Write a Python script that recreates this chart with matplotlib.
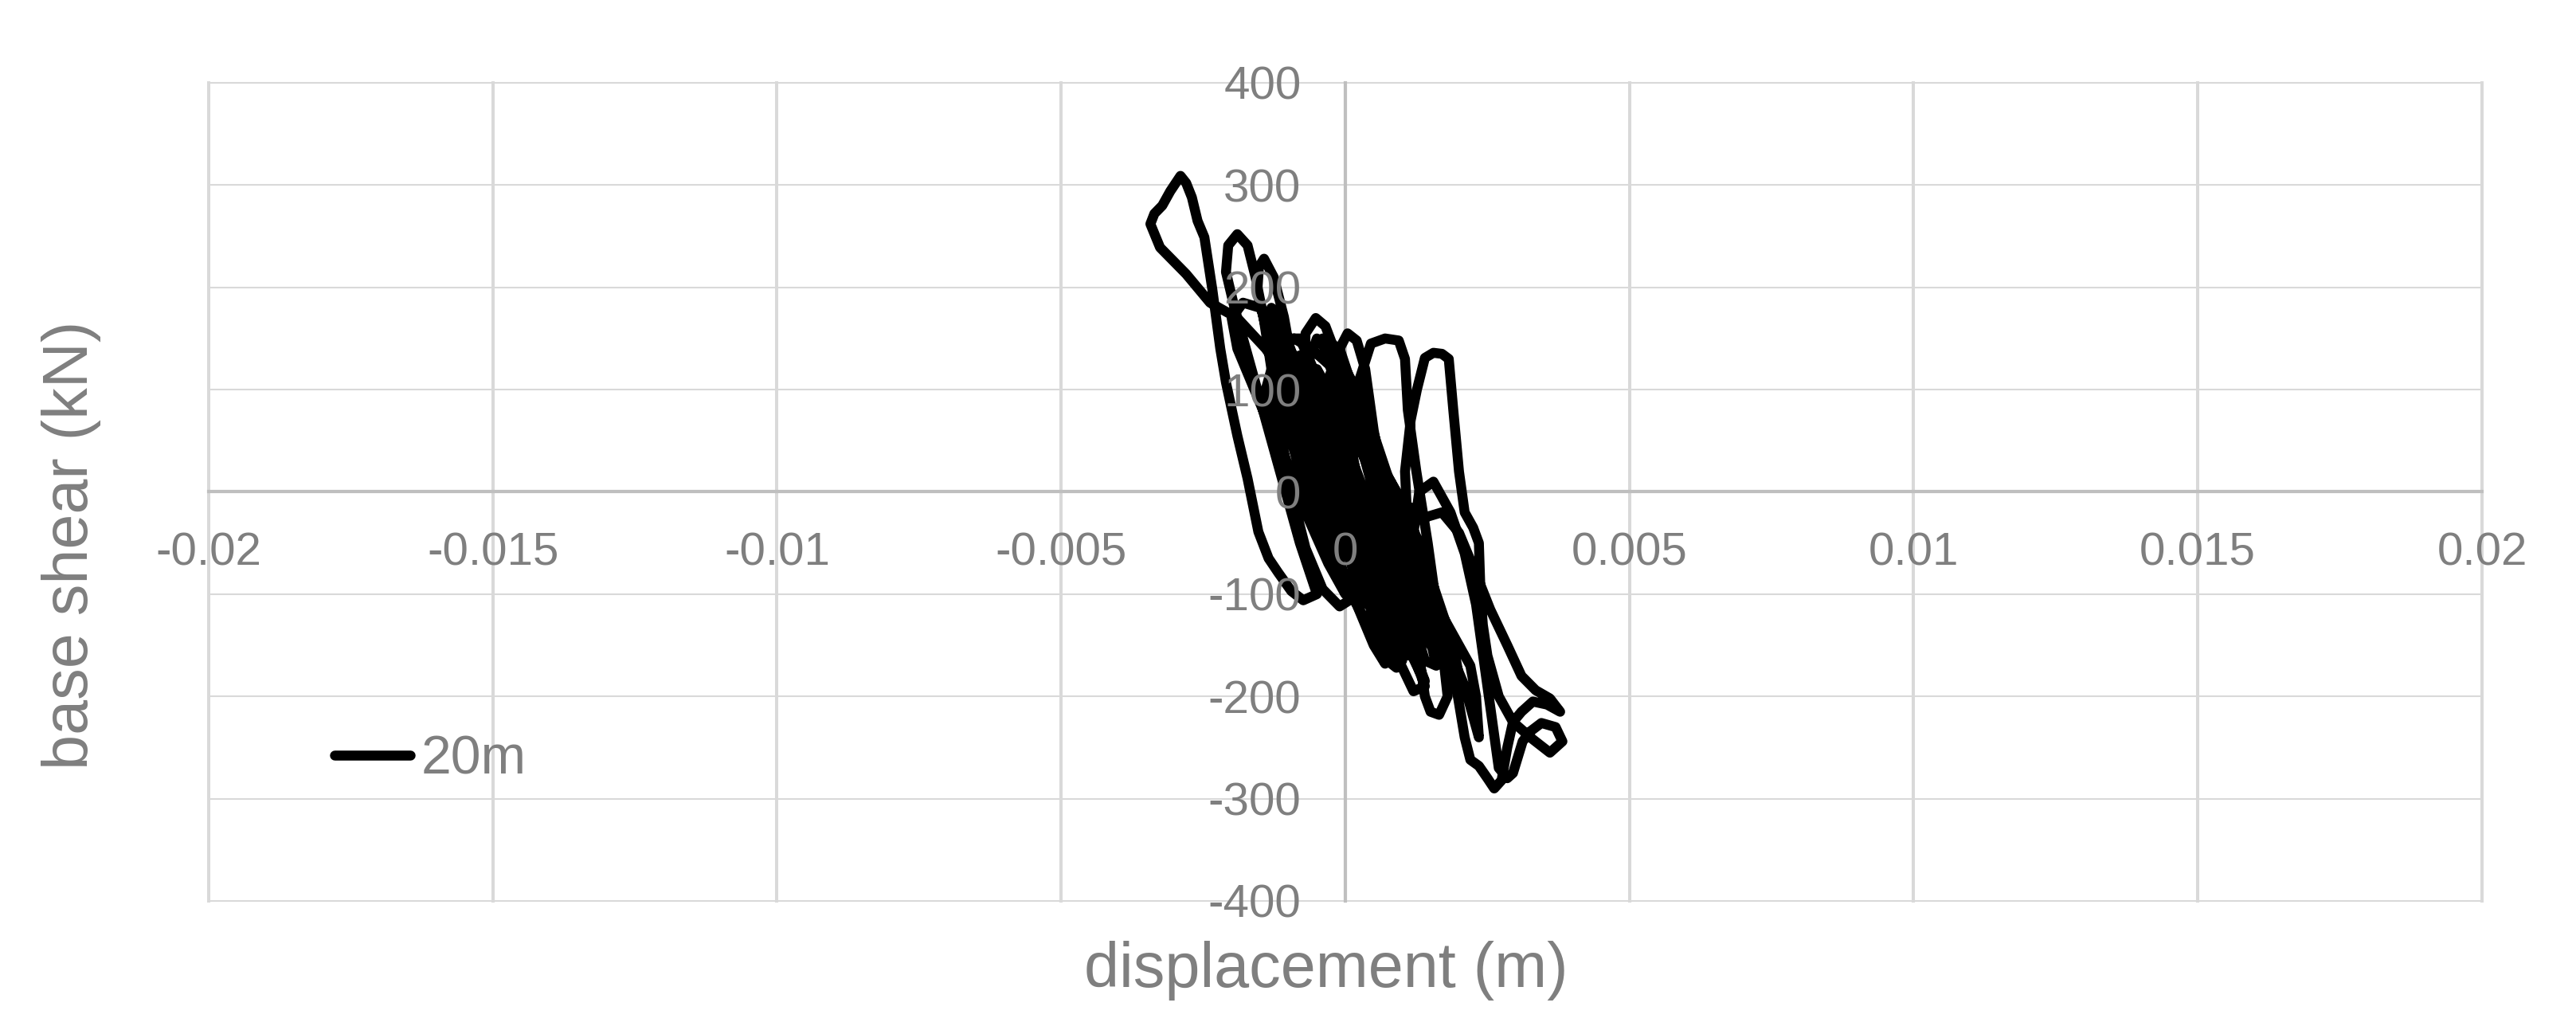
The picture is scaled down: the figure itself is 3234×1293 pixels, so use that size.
import numpy as np
import matplotlib
matplotlib.use("Agg")
import matplotlib.pyplot as plt

# ---- data (displacement in mm, base shear in kN) ----
disp_mm = [
    0.0, 0.3, 0.5, 0.3, -0.1, -0.4, -0.6, -0.4, 0.0, 0.4, 0.8, 1.0, 0.8, 0.4, 0.0, -0.5, -0.9, -1.1, -0.9, -0.5,
    -0.3, -0.1, 0.04, 0.2, 0.35, 0.5, 0.7, 0.9, 1.1, 1.2, 1.05, 0.8, 0.5, 0.2,
    -0.2, -0.5, -0.72, -0.7, -0.52, -0.35, -0.2, -0.05, 0.15, 0.35, 0.55, 0.7, 0.74, 0.9, 1.0, 0.98, 0.8,
    0.5, 0.1, -0.4, -0.9, -1.4, -1.9, -2.38, -2.8, -3.26, -3.43, -3.36, -3.22, -3.08, -2.9, -2.8, -2.7, -2.6,
    -2.48, -2.34, -2.2, -2.1, -1.9, -1.72, -1.53, -1.35, -1.18, -0.95, -0.74, -0.5,
    -0.8, -1.1, -1.4, -1.7, -1.95, -2.1, -2.06, -1.9, -1.72, -1.58, -1.44, -1.3, -1.15, -0.95, -0.7, -0.4, -0.1, 0.1,
    -0.2, -0.6, -1.0, -1.35, -1.55, -1.52, -1.43, -1.26, -1.08, -0.9, -0.7, -0.45, -0.2, 0.1, 0.35, 0.6,
    0.4, 0.2, 0.1, 0.25, 0.45, 0.7, 0.94, 1.05, 1.1, 1.25, 1.45, 1.6, 1.72, 1.8, 1.65, 1.5, 1.4, 1.3, 1.2, 1.1,
    1.05, 1.15, 1.26, 1.4, 1.55, 1.7, 1.82, 1.9, 2.0, 2.1, 2.25, 2.35, 2.38, 2.42,
    2.5, 2.7, 2.95, 3.3, 3.6, 3.82, 3.7, 3.45, 3.26, 3.12, 2.95, 2.85, 2.7, 2.6, 2.45, 2.3, 2.1, 1.85, 1.55,
    1.3, 1.2, 1.4, 1.7, 1.95, 2.1, 2.2, 2.35, 2.5, 2.62, 2.75, 2.85, 2.95, 3.1, 3.3, 3.55, 3.78, 3.6, 3.35,
    3.1, 2.85, 2.55, 2.3, 2.0, 1.7, 1.4,
    1.0, 0.6, 0.2, -0.2, -0.6, -0.9, -1.1, -1.0, -0.7, -0.4, -0.1, 0.2, 0.5, 0.7, 0.6, 0.3, 0.0, -0.3, -0.6,
    -0.9, -1.2, -1.5, -1.8, -2.0, -1.9, -1.6, -1.3, -1.0, -0.7, -0.3, 0.1, 0.4, 0.7, 0.6, 0.3, 0.0, -0.3, -0.5,
    -0.3, 0.0, 0.3, 0.6, 0.9, 1.1, 0.9, 0.5, 0.1, -0.2, 0.0, 0.3, 0.6, 0.9, 1.2, 1.5, 1.8, 2.0, 1.9, 1.6, 1.3,
    0.9, 0.5, 0.2, 0.0, 0.2,
    -0.4, -0.8, -1.2, -1.3, -1.2, -0.9, -0.5, -0.1, 0.3, 0.7, 1.0, 1.3, 1.4, 1.3, 1.0, 0.6, 0.2, -0.2, -0.6,
    -0.8, -0.6, -0.3, 0.1, 0.4, 0.8, 1.2, 1.5, 1.6, 1.4, 1.1, 0.7, 0.3, 0.0, -0.3, -0.2, 0.1, 0.5, 0.9, 1.3,
    1.7, 2.0, 2.2, 2.3, 2.35, 2.3, 2.1, 1.8, 1.4, 1.0, 0.6, 0.2, -0.2, -0.5, -0.8, -0.6, -0.2, 0.2, 0.5, 0.8,
    0.6, 0.2, -0.2, -0.6, -1.0, -1.3, -1.1, -0.8, -0.4, 0.0, 0.3, 0.1, -0.2, -0.5, -0.3, 0.0,
    -0.9, -1.1, -0.8, -0.4, 0.1, 0.5, 0.9, 1.1, 0.9, 0.5, 0.0, -0.5, -0.9, -1.0, -0.7, -0.3, 0.2, 0.7, 1.1,
    1.3, 1.1, 0.7, 0.3, -0.1, -0.6, -0.8, -0.5, -0.1, 0.3, 0.6, 0.8, 0.5, 0.1, -0.3, -0.6, -0.4, 0.0, 0.4,
    0.8, 1.2, 1.0, 0.6, 0.2, -0.2, -0.5, -0.2, 0.2, 0.6, 1.0, 1.3, 1.0, 0.6, 0.2, -0.2, -0.4, -0.1, 0.2, 0.5,
    0.8, 1.1, 1.4, 1.6, 1.4, 1.1, 0.7, 0.3, 0.0,
    -0.6, -1.0, -1.2, -1.1, -0.8, -0.4, 0.0, 0.3, 0.1, -0.3, -0.7, -1.0, -1.3, -1.4, -1.1, -0.7, -0.3, 0.0,
    -0.2, -0.6, -0.9, -0.6, -0.2, 0.2, 0.5, 0.9, 1.2, 1.4, 1.2, 0.9, 0.6, 0.3, 0.6, 0.9, 1.2, 1.0, 0.7, 0.4,
    0.1, -0.2, -0.5, -0.7, -0.4, -0.1, 0.0,
]
shear_kN = [
    0, -30, -60, -70, -20, 30, 60, 70, 20, -40, -90, -120, -125, -80, -30, 40, 90, 120, 125, 80,
    110, 140, 155, 148, 120, 60, 0, -50, -100, -140, -150, -120, -80, -40,
    20, 70, 120, 155, 170, 162, 140, 90, 30, -30, -80, -130, -165, -172, -165, -140, -100,
    -50, 0, 50, 100, 140, 170, 185, 213, 239, 262, 272, 280, 294, 309, 302, 288, 265,
    249, 198, 140, 107, 55, 13, -39, -65, -79, -97, -106, -100,
    -50, 10, 70, 130, 180, 215, 241, 252, 241, 210, 171, 120, 60, 0, -55, -95, -112, -105,
    -50, 20, 90, 150, 195, 220, 228, 210, 171, 115, 55, -5, -55, -100, -125, -140,
    -90, -30, 40, 110, 145, 150, 148, 130, 80, 20, -50, -110, -160, -200, -218, -215, -200, -160, -100, -40,
    20, 70, 100, 131, 136, 135, 130, 80, 20, -20, -35, -50, -100, -130,
    -160, -200, -225, -242, -255, -244, -230, -226, -234, -244, -275, -280, -270, -230, -170, -110, -60, -20, 10,
    0, -40, -90, -140, -190, -240, -262, -268, -280, -290, -282, -250, -225, -215, -205, -208, -215, -202, -194,
    -180, -150, -115, -80, -40, -20, -25,
    -10, 30, 80, 120, 140, 150, 140, 100, 40, -20, -70, -110, -150, -168, -140, -90, -40, 10, 60,
    110, 150, 180, 185, 170, 140, 100, 60, 20, -20, -60, -90, -110, -100, -60, -20, 20, 60, 90,
    70, 30, -10, -50, -80, -60, -20, 20, 60, 100, 120, 90, 40, -10, -60, -100, -140, -180, -150, -100, -50,
    0, 40, 60, 30, 0,
    60, 110, 160, 180, 175, 130, 70, 10, -50, -100, -140, -175, -185, -170, -120, -60, 0, 50, 100,
    130, 120, 80, 30, -10, -60, -110, -150, -140, -90, -40, 10, 60, 100, 130, 110, 70, 20, -30, -80,
    -120, -150, -170, -200, -240, -230, -190, -150, -100, -50, 0, 50, 90, 120, 120, 80, 20, -40, -90, -120,
    -100, -50, 0, 50, 90, 110, 70, 30, -20, -60, -80, -50, -20, 20, 40, 0,
    110, 150, 150, 100, 30, -30, -90, -130, -140, -100, -40, 30, 90, 130, 135, 80, 10, -60, -110,
    -150, -160, -120, -60, 0, 60, 80, 50, -10, -70, -110, -120, -80, -20, 40, 90, 100, 50, -10,
    -60, -100, -110, -70, -20, 30, 70, 60, 0, -40, -80, -90, -50, 0, 50, 110, 150, 140, 90, 30,
    -20, -70, -120, -170, -165, -110, -50, 0, 40,
    110, 140, 130, 80, 20, -40, -90, -110, -70, -10, 50, 90, 120, 100, 40, -20, -70, -100,
    -60, 0, 60, 90, 40, -20, -70, -120, -160, -190, -195, -160, -110, -60, -80, -100, -130, -90, -40, 20,
    80, 130, 150, 120, 60, 0, -20,
]
series_name = "20m"

x_ticks = [-0.02, -0.015, -0.01, -0.005, 0, 0.005, 0.01, 0.015, 0.02]
x_labels = ["-0.02", "-0.015", "-0.01", "-0.005", "0", "0.005", "0.01", "0.015", "0.02"]
y_ticks = [-400, -300, -200, -100, 0, 100, 200, 300, 400]
y_labels = ["-400", "-300", "-200", "-100", "0", "100", "200", "300", "400"]

x_title = "displacement (m)"
y_title = "base shear (kN)"

# ---- styling ----
FONT = "Liberation Sans"
GRAY_TXT = "#7F7F7F"
GRID = "#D9D9D9"
AXIS = "#BFBFBF"
plt.rcParams["font.family"] = [FONT, "DejaVu Sans"]

disp_m = np.array(disp_mm) / 1000.0
shear = np.array(shear_kN, dtype=float)

fig = plt.figure(figsize=(32.34, 12.93), dpi=100)
ax = fig.add_axes([0.0810, 0.1253, 0.8825, 0.7943])
ax.set_xlim(x_ticks[0], x_ticks[-1])
ax.set_ylim(y_ticks[0], y_ticks[-1])

for xv in x_ticks:
    if xv != 0:
        ax.axvline(xv, color=GRID, lw=2.9, zorder=1, clip_on=False)
for yv in y_ticks:
    if yv != 0:
        ax.axhline(yv, color=GRID, lw=1.5, zorder=1, clip_on=False)

for side in ("top", "right"):
    ax.spines[side].set_visible(False)
ax.spines["left"].set_position(("data", 0))
ax.spines["bottom"].set_position(("data", 0))
for side in ("left", "bottom"):
    ax.spines[side].set_color(AXIS)
    ax.spines[side].set_linewidth(3)
    ax.spines[side].set_zorder(1.5)

ax.plot(disp_m, shear, color="black", lw=9, solid_joinstyle="round",
        solid_capstyle="round", zorder=2, label=series_name)

ax.set_xticks(x_ticks, labels=x_labels)
ax.set_yticks(y_ticks, labels=y_labels)
ax.tick_params(axis="both", length=0, labelsize=42, labelcolor=GRAY_TXT)
ax.tick_params(axis="x", pad=36)
ax.tick_params(axis="y", pad=40)
ax.xaxis.set_zorder(3)
ax.yaxis.set_zorder(3)
ax.patch.set_visible(False)

leg = ax.legend(loc="center left", bbox_to_anchor=(0.1299, 0.2622),
                bbox_transform=fig.transFigure, frameon=False, borderpad=0,
                borderaxespad=0, handlelength=1.4, handletextpad=0.2,
                prop={"family": FONT, "size": 49}, labelcolor=GRAY_TXT)
leg.set_zorder(4)

fig.text(0.5148, 0.0418, x_title, ha="center", va="baseline", fontsize=57, color=GRAY_TXT)
fig.text(0.0278, 0.471, y_title, ha="center", va="center", rotation=90, fontsize=57, color=GRAY_TXT)

fig.savefig("out.png", dpi=100, facecolor="white")
